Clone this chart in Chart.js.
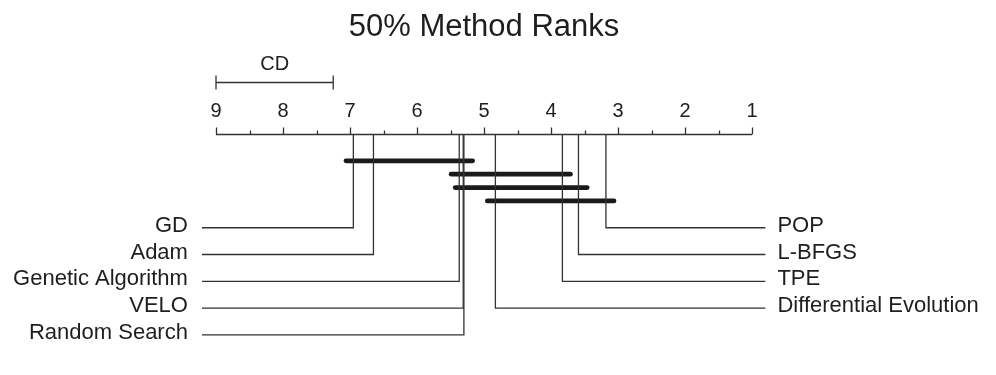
<!DOCTYPE html>
<html>
<head>
<meta charset="utf-8">
<script src="https://cdn.jsdelivr.net/npm/chart.js@4"></script>
<style>
  body { margin: 0; background: #fff; }
  #wrap { width: 996px; height: 375px; }
</style>
</head>
<body>
<div id="wrap"><canvas id="cdChart"></canvas></div>
<script>
// average ranks (lower is better)
const methods = ['GD', 'Adam', 'Genetic Algorithm', 'VELO', 'Random Search',
                 'Differential Evolution', 'TPE', 'L-BFGS', 'POP'];
const ranks = [6.95, 6.65, 5.37, 5.31, 5.30, 4.83, 3.83, 3.59, 3.18];
// groups with no significant difference: [from, to] in rank units
const cliques = [[7.06, 5.17], [5.49, 3.71], [5.43, 3.46], [4.95, 3.06]];
const tickLabels = ['9', '8', '7', '6', '5', '4', '3', '2', '1'];
const cdValue = 1.75;

const FONT = '"Liberation Sans", Arial, Helvetica, sans-serif';
const TEXT = '#1e1e1e';
const LEFT_END = 9.21, RIGHT_END = 0.8;

// order methods worst to best, first half goes to the left side
const order = ranks.map((r, i) => i).sort((a, b) => ranks[b] - ranks[a]);
const nLeft = Math.ceil(order.length / 2);

const datasets = [];
order.forEach((idx, k) => {
  const left = k < nLeft;
  const row = left ? 3.5 + k : 3.5 + (order.length - 1 - k);
  datasets.push({
    label: methods[idx],
    data: [{x: ranks[idx], y: 0}, {x: ranks[idx], y: row}, {x: left ? LEFT_END : RIGHT_END, y: row}],
    borderColor: '#333', borderWidth: 1.3, side: left ? 'left' : 'right'
  });
});
cliques.forEach((c, k) => {
  datasets.push({
    label: 'clique' + k,
    data: [{x: c[0], y: 1 + k * 0.5}, {x: c[1], y: 1 + k * 0.5}],
    borderColor: '#1a1a1a', borderWidth: 4.8, borderCapStyle: 'round'
  });
});

// axis, CD bar and method names
const cdPlugin = {
  id: 'cdPlugin',
  afterDatasetsDraw(chart) {
    const ctx = chart.ctx;
    const xs = chart.scales.x, ys = chart.scales.y;
    const axisY = Math.round(ys.getPixelForValue(0)) + 0.5;
    ctx.save();
    ctx.strokeStyle = '#333';
    ctx.lineWidth = 1.3;
    ctx.beginPath();
    ctx.moveTo(xs.getPixelForValue(9), axisY);
    ctx.lineTo(xs.getPixelForValue(1), axisY);
    for (let v = 1; v <= 9; v += 0.5) {
      const px = Math.round(xs.getPixelForValue(v)) + 0.5;
      ctx.moveTo(px, axisY);
      ctx.lineTo(px, axisY - (Number.isInteger(v) ? 7 : 4));
    }
    ctx.stroke();

    ctx.fillStyle = TEXT;
    ctx.font = '20px ' + FONT;
    ctx.textAlign = 'center';
    ctx.textBaseline = 'alphabetic';
    tickLabels.forEach(t => ctx.fillText(t, xs.getPixelForValue(Number(t)), axisY - 18));

    // CD bar
    const cdY = axisY - 52;
    const x0 = xs.getPixelForValue(9), x1 = xs.getPixelForValue(9 - cdValue);
    ctx.beginPath();
    ctx.moveTo(x0, cdY); ctx.lineTo(x1, cdY);
    ctx.moveTo(x0, cdY - 7); ctx.lineTo(x0, cdY + 7);
    ctx.moveTo(x1, cdY - 7); ctx.lineTo(x1, cdY + 7);
    ctx.stroke();
    ctx.fillText('CD', (x0 + x1) / 2, cdY - 13);

    // method labels
    ctx.font = '22px ' + FONT;
    ctx.textBaseline = 'middle';
    chart.data.datasets.forEach((ds, i) => {
      if (!ds.side) return;
      const pts = chart.getDatasetMeta(i).data;
      const p = pts[pts.length - 1];
      if (ds.side === 'left') {
        ctx.textAlign = 'right';
        ctx.fillText(ds.label, p.x - 14, p.y - 2);
      } else {
        ctx.textAlign = 'left';
        ctx.fillText(ds.label, p.x + 12, p.y - 2);
      }
    });
    ctx.restore();
  }
};

new Chart(document.getElementById('cdChart'), {
  type: 'line',
  data: { datasets: datasets },
  options: {
    responsive: true,
    maintainAspectRatio: false,
    animation: false,
    layout: { padding: { left: 216, right: 244, top: 0, bottom: 0 } },
    elements: { point: { radius: 0 }, line: { tension: 0 } },
    datasets: { line: { clip: false } },
    scales: {
      x: { type: 'linear', min: 1, max: 9, reverse: true, display: false },
      y: { type: 'linear', min: -3, max: 9, reverse: true, display: false }
    },
    plugins: {
      legend: { display: false },
      tooltip: { enabled: false },
      title: {
        display: true,
        text: '50% Method Ranks',
        color: TEXT,
        font: { family: FONT, size: 31, weight: 'normal', lineHeight: 1.2 },
        padding: { top: 9, bottom: 7.5 }
      }
    }
  },
  plugins: [cdPlugin]
});
</script>
</body>
</html>
